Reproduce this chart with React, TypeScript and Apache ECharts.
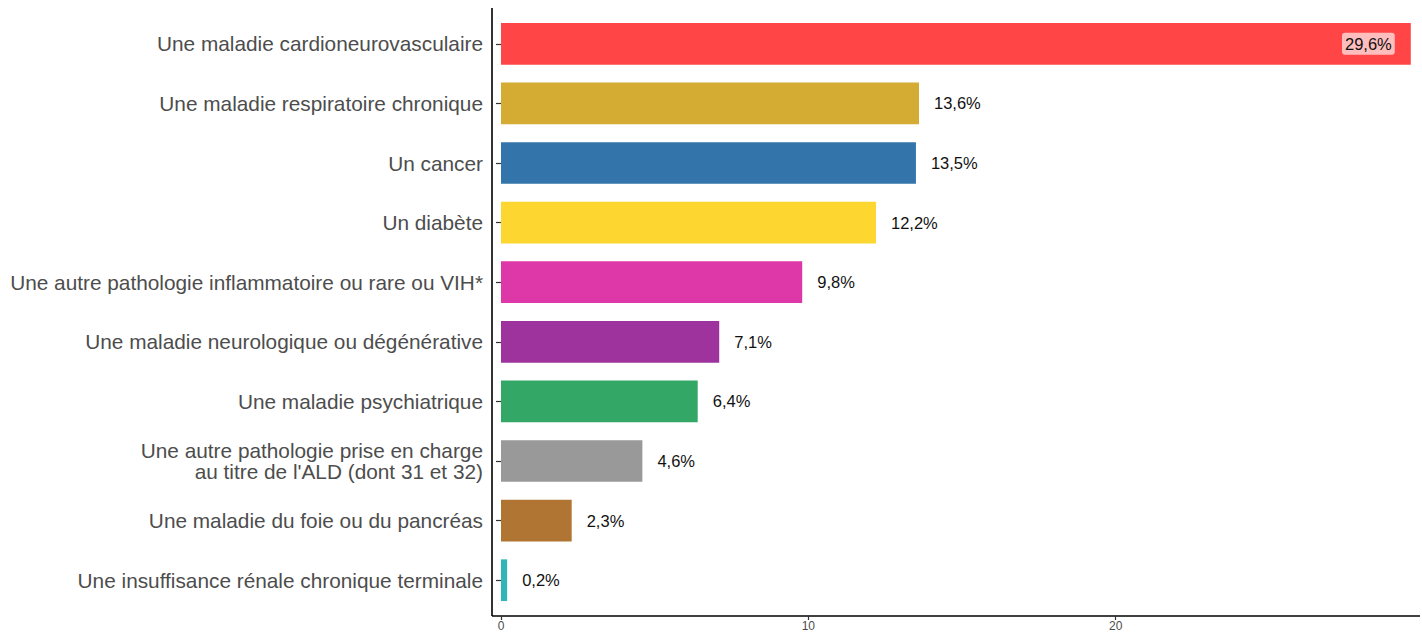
import React, { useEffect, useRef } from "react";
import * as echarts from "echarts";

const categories = [
  "Une maladie cardioneurovasculaire",
  "Une maladie respiratoire chronique",
  "Un cancer",
  "Un diabète",
  "Une autre pathologie inflammatoire ou rare ou VIH*",
  "Une maladie neurologique ou dégénérative",
  "Une maladie psychiatrique",
  "Une autre pathologie prise en charge\nau titre de l'ALD (dont 31 et 32)",
  "Une maladie du foie ou du pancréas",
  "Une insuffisance rénale chronique terminale",
];
const values = [29.6, 13.6, 13.5, 12.2, 9.8, 7.1, 6.4, 4.6, 2.3, 0.2];
const colors = [
  "#FF4545",
  "#D4AC33",
  "#3375AA",
  "#FDD72F",
  "#DE37A7",
  "#9E339E",
  "#33A866",
  "#999999",
  "#B07433",
  "#33B5B5",
];
const xTicks = [0, 10, 20];

const fmt = (v: number) => v.toFixed(1).replace(".", ",") + "%";

export default function App() {
  const ref = useRef<HTMLDivElement>(null);
  useEffect(() => {
    if (!ref.current) return;
    const chart = echarts.init(ref.current, undefined, {
      renderer: "svg",
      width: 1422,
      height: 634,
    });
    const gridLeft = 501;
    const gridTop = 14;
    const gridBottom = 24;
    chart.setOption({
      animation: false,
      backgroundColor: "#ffffff",
      textStyle: { fontFamily: "Liberation Sans, Arial, sans-serif" },
      grid: { left: gridLeft, right: 2, top: gridTop, bottom: gridBottom, containLabel: false },
      xAxis: {
        type: "value",
        min: xTicks[0],
        max: 29.9,
        offset: 6,
        axisLine: { show: false },
        axisTick: {
          show: true,
          length: 4,
          lineStyle: { color: "#333333", width: 1.2 },
          customValues: xTicks,
        },
        axisLabel: {
          color: "#4d4d4d",
          fontSize: 12,
          margin: 4,
          customValues: xTicks,
        },
        splitLine: { show: false },
      },
      yAxis: {
        type: "category",
        inverse: true,
        data: categories,
        offset: 9,
        axisLine: { show: false },
        axisTick: {
          show: true,
          length: 5,
          alignWithLabel: true,
          lineStyle: { color: "#333333", width: 1.2 },
        },
        axisLabel: {
          color: "#4d4d4d",
          fontSize: 20.8,
          margin: 9,
          lineHeight: 21,
          align: "right",
        },
      },
      series: [
        {
          type: "bar",
          barWidth: "70%",
          data: values.map((v, i) => ({
            value: v,
            itemStyle: { color: colors[i] },
            label:
              i === 0
                ? {
                    show: true,
                    position: "insideRight",
                    distance: 16,
                    formatter: (p: any) => fmt(p.value),
                    color: "#111111",
                    fontSize: 16.5,
                    backgroundColor: "rgba(255,255,255,0.65)",
                    padding: [3, 3, 2, 3],
                    borderRadius: 3,
                  }
                : {
                    show: true,
                    position: "right",
                    distance: 15,
                    formatter: (p: any) => fmt(p.value),
                    color: "#111111",
                    fontSize: 16.5,
                  },
          })),
        },
      ],
      graphic: [
        {
          type: "line",
          shape: { x1: 492, y1: 8, x2: 492, y2: 616 },
          style: { stroke: "#000000", lineWidth: 1.6 },
        },
        {
          type: "line",
          shape: { x1: 492, y1: 616, x2: 1420, y2: 616 },
          style: { stroke: "#000000", lineWidth: 1.6 },
        },
      ],
    });
    return () => chart.dispose();
  }, []);
  return (
    <div
      ref={ref}
      style={{ position: "fixed", left: 0, top: 0, width: 1422, height: 634 }}
    />
  );
}
